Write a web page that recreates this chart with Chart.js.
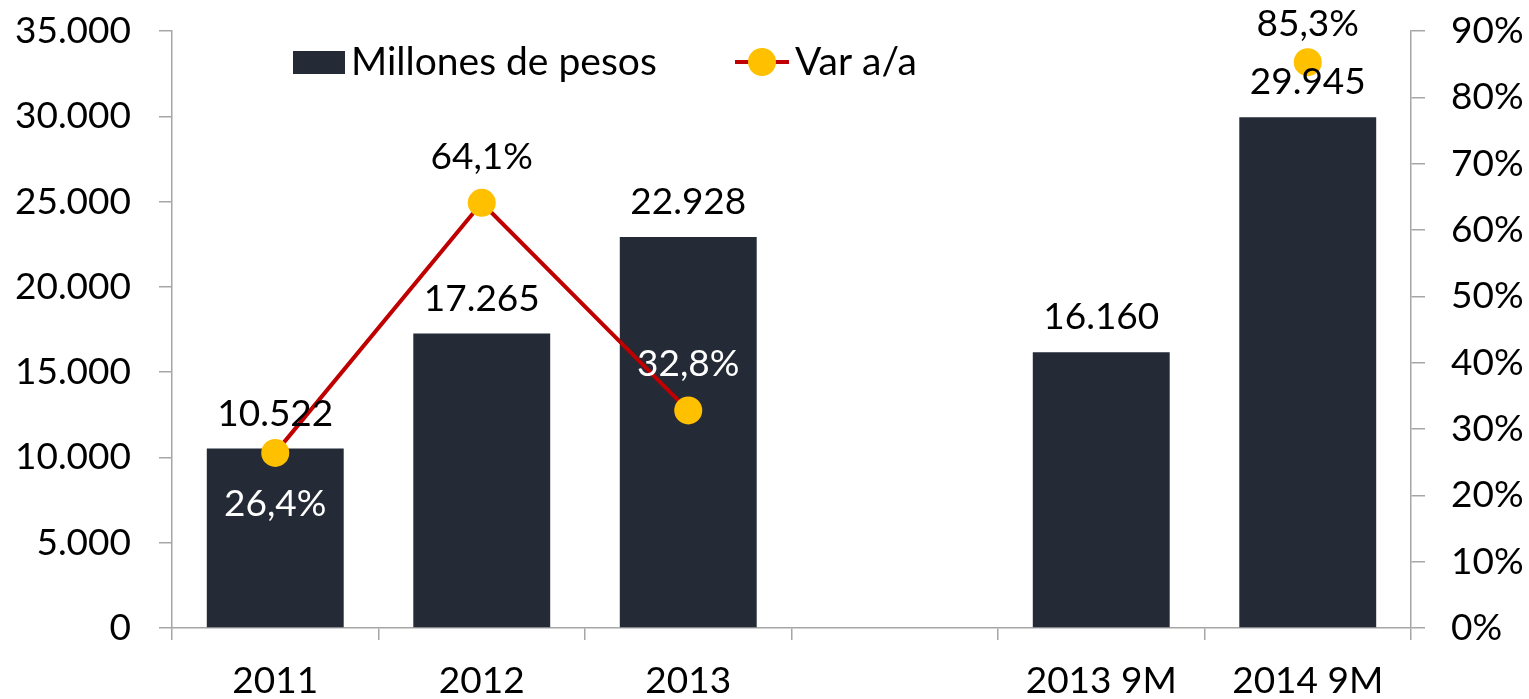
<!DOCTYPE html>
<html>
<head>
<meta charset="utf-8">
<script src="https://cdn.jsdelivr.net/npm/chart.js@4"></script>
<style>
  html, body { margin: 0; padding: 0; background: #fff; overflow: hidden; }
  .chart-wrapper { position: relative; width: 1529px; height: 699px; }
</style>
</head>
<body>
<div class="chart-wrapper"><canvas id="chart"></canvas></div>
<script>
// Data
const categories = ["2011", "2012", "2013", "", "2013 9M", "2014 9M"]
const millones = [10522, 17265, 22928, null, 16160, 29945]
const varAa = [0.264, 0.641, 0.328, null, null, 0.853]
const leftTicks = [0, 5000, 10000, 15000, 20000, 25000, 30000, 35000]
const rightTicks = [0, 0.1, 0.2, 0.3, 0.4, 0.5, 0.6, 0.7, 0.8, 0.9]

const primaryFont = "Lato"
const axisColor = "#a6a6a6"
const barColor = "#242a36"
const lineColor = "#c00000"
const pointColor = "#ffc000"

const fmtNum = (v) => String(Math.round(v)).replace(/\B(?=(\d{3})+(?!\d))/g, ".")
const fmtPct = (v) => (v * 100).toFixed(1).replace(".", ",") + "%"
const fmtPct0 = (v) => Math.round(v * 100) + "%"

// label placement for the line points: above/below and text colour
const lineLabelStyle = [
  { pos: "below", color: "#fff" },
  { pos: "above", color: "#000" },
  { pos: "above", color: "#fff" },
  null,
  null,
  { pos: "above", color: "#000" },
]

// Draw value labels for bars and line points
const valueLabels = {
  id: "valueLabels",
  afterDatasetsDraw: (chart) => {
    const ctx = chart.ctx
    ctx.save()
    ctx.font = `37px ${primaryFont}, sans-serif`
    ctx.textAlign = "center"
    ctx.textBaseline = "alphabetic"

    const barMeta = chart.getDatasetMeta(0)
    barMeta.data.forEach((bar, i) => {
      if (millones[i] == null) return
      ctx.fillStyle = "#000"
      ctx.fillText(fmtNum(millones[i]), bar.x, bar.y - 23)
    })

    const lineMeta = chart.getDatasetMeta(1)
    lineMeta.data.forEach((pt, i) => {
      const s = lineLabelStyle[i]
      if (varAa[i] == null || !s) return
      ctx.fillStyle = s.color
      let y = s.pos === "above" ? pt.y - 34 : pt.y + 63
      y = Math.max(y, 36)
      ctx.fillText(fmtPct(varAa[i]), pt.x, y)
    })
    ctx.restore()
  },
}

// Legend drawn inside the plot area, as in the reference
const insideLegend = {
  id: "insideLegend",
  afterDraw: (chart) => {
    const ctx = chart.ctx
    ctx.save()
    ctx.font = `39px ${primaryFont}, sans-serif`
    ctx.textBaseline = "alphabetic"
    ctx.textAlign = "left"

    ctx.fillStyle = barColor
    ctx.fillRect(293, 51, 52, 23)
    ctx.fillStyle = "#000"
    ctx.fillText("Millones de pesos", 351, 75)

    ctx.strokeStyle = lineColor
    ctx.lineWidth = 4
    ctx.beginPath()
    ctx.moveTo(735, 62)
    ctx.lineTo(789, 62)
    ctx.stroke()
    ctx.fillStyle = pointColor
    ctx.beginPath()
    ctx.arc(762, 62, 14, 0, Math.PI * 2)
    ctx.fill()
    ctx.fillStyle = "#000"
    ctx.fillText("Var a/a", 795, 75)
    ctx.restore()
  },
}

const tickFont = { family: primaryFont, size: 37 }

// fixed axis sizes so the plot area matches the reference
const fitY = (w) => (scale) => {
  scale.width = w
  scale.paddingTop = 0
  scale.paddingBottom = 0
}

new Chart(document.getElementById("chart").getContext("2d"), {
  data: {
    labels: categories,
    datasets: [
      {
        type: "bar",
        label: "Millones de pesos",
        data: millones,
        backgroundColor: barColor,
        borderWidth: 0,
        categoryPercentage: 1,
        barPercentage: 0.663,
        yAxisID: "y",
        order: 2,
      },
      {
        type: "line",
        label: "Var a/a",
        data: varAa,
        borderColor: lineColor,
        borderWidth: 4,
        pointRadius: 14,
        pointHoverRadius: 14,
        pointBackgroundColor: pointColor,
        pointBorderWidth: 0,
        spanGaps: false,
        tension: 0,
        yAxisID: "y1",
        order: 1,
      },
    ],
  },
  options: {
    responsive: true,
    maintainAspectRatio: false,
    animation: false,
    layout: { padding: { top: 31, left: 0, right: 0, bottom: 0 } },
    plugins: {
      legend: { display: false },
      title: { display: false },
      tooltip: { enabled: false },
    },
    scales: {
      x: {
        offset: true,
        grid: {
          offset: true,
          drawOnChartArea: false,
          drawTicks: true,
          tickLength: 12,
          color: axisColor,
          lineWidth: 1.5,
        },
        border: { display: true, color: axisColor, width: 1.5 },
        ticks: { font: tickFont, color: "#000", padding: 19, maxRotation: 0, autoSkip: false },
        afterFit: (scale) => {
          scale.height = 71
          scale.paddingLeft = 0
          scale.paddingRight = 0
        },
      },
      y: {
        position: "left",
        min: 0,
        max: 35000,
        afterBuildTicks: (scale) => { scale.ticks = leftTicks.map((v) => ({ value: v })) },
        grid: { drawOnChartArea: false, tickLength: 13, color: axisColor, lineWidth: 1.5 },
        border: { display: true, color: axisColor, width: 1.5 },
        ticks: { font: tickFont, color: "#000", padding: 28, callback: (v) => fmtNum(v) },
        afterFit: fitY(172),
      },
      y1: {
        position: "right",
        min: 0,
        max: 0.9,
        afterBuildTicks: (scale) => { scale.ticks = rightTicks.map((v) => ({ value: v })) },
        grid: { drawOnChartArea: false, tickLength: 14, color: axisColor, lineWidth: 1.5 },
        border: { display: true, color: axisColor, width: 1.5 },
        ticks: { font: tickFont, color: "#000", padding: 26, callback: (v) => fmtPct0(v) },
        afterFit: fitY(118),
      },
    },
  },
  plugins: [valueLabels, insideLegend],
})
</script>
</body>
</html>
